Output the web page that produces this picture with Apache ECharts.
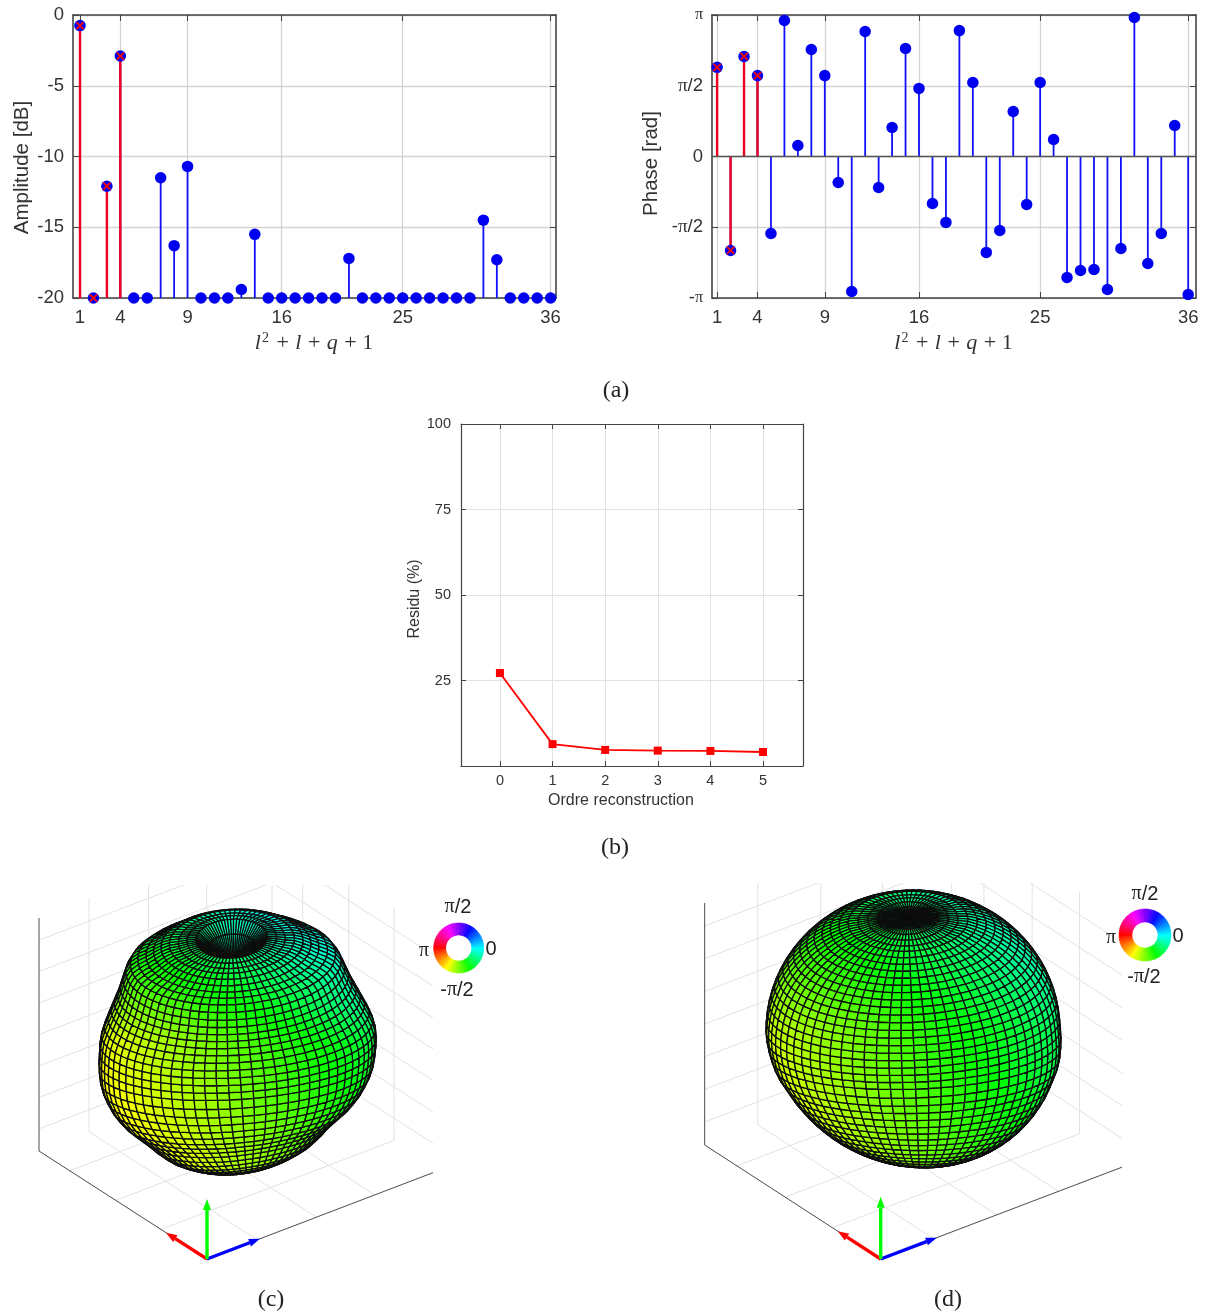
<!DOCTYPE html>
<html>
<head>
<meta charset="utf-8">
<style>html,body{margin:0;padding:0;background:#fff}#c{width:1207px;height:1316px}</style>
<script src="https://cdn.jsdelivr.net/npm/echarts@6/dist/echarts.min.js"></script>
</head>
<body>
<div id="c"></div>
<script>
// ---------- data ----------
const modeIndex = [1,2,3,4,5,6,7,8,9,10,11,12,13,14,15,16,17,18,19,20,21,22,23,24,25,26,27,28,29,30,31,32,33,34,35,36];
const amplitudeDb = [-0.75,-20,-12.1,-2.9,-20,-20,-11.5,-16.3,-10.7,-20,-20,-20,-19.4,-15.5,-20,-20,-20,-20,-20,-20,-17.2,-20,-20,-20,-20,-20,-20,-20,-20,-20,-14.5,-17.3,-20,-20,-20,-20];
const phaseOverPi = [0.63,-0.664,0.707,0.572,-0.544,0.961,0.078,0.756,0.572,-0.184,-0.954,0.883,-0.219,0.205,0.763,0.481,-0.332,-0.466,0.89,0.523,-0.678,-0.523,0.318,-0.339,0.523,0.12,-0.855,-0.806,-0.799,-0.94,-0.65,0.982,-0.756,-0.544,0.219,-0.975];
const selectedCount = 4;
const modeTicks = [1,4,9,16,25,36];
const orders = [0,1,2,3,4,5];
const residuPct = [27.2,6.4,4.7,4.5,4.4,4.1];
// ring radii of the balloons, one value per 4 degrees of polar angle
const ringRadiusC = [.60,.62,.70,.85,.94,.945,.95,.965,.97,.97,.975,.99,1.0,.99,.97,.955,.945,.945,.95,.96,.975,.99,1.0,1.005,1.01,1.015,1.02,1.02,1.015,1.01,1.0,.99,.975,.965,.96,.965,.97,.975,.975,.975,.975,.975,.97,.97,.97,.97];
const ringRadiusD = [.99,.99,.99,.99,.99,.99,1,1,1,1,1,1,1,1,1,1,1,1,1,1,1,1,1,1,1,1,1,.997,.99,.987,.987,.985,.985,.985,.985,.985,.985,.985,.985,.985,.985,.985,.985,.985,.985,.985];
const wallLevels = [.095,.23,.365,.5,.635,.77,.905];
const uTicks = [.215,.47,.72];
const vTicks = [.274,.543,.817];
const arrowTips = [[0,.244,0,'#ff0000'],[.227,0,0,'#0000ff'],[0,0,.257,'#00ff00']];
const SANS = '"Liberation Sans", Arial, sans-serif';
const SERIF = '"Liberation Serif", "Times New Roman", serif';
const TXT = '#333', DARK = '#444', GRIDC = '#d4d4d4';

// ---------- projections of the two balloon panels ----------
const panelC = {rect:[20,885,413,385], o:[207,1259], R:[233,89], L:[-168,108], H:233,
  center:[31,218], sx:138, sy:136, roll:3.5, skew:-.1, rings:ringRadiusC, hue:[100,35,70,22]};
const panelD = {rect:[690,883,432,387], o:[880.7,1259], R:[247,94], L:[-176,114], H:242,
  center:[32.3,229], sx:147, sy:140, roll:2.5, skew:.08, rings:ringRadiusD, hue:[108,35,45,18]};
const LON_CELLS = 72;
const EL_TOP = 37, EL_SLOPE = .22, EL_LOW = 15;

function box(p,u,v,w){ return [u*p.R[0]+v*p.L[0], u*p.R[1]+v*p.L[1]+w*p.H]; }

function buildCells(p){
  const rho=p.roll*Math.PI/180, n=p.rings.length-1, out=[];
  const pt=(i,j)=>{
    const deg=180*i/n, th=deg*Math.PI/180, la=2*Math.PI*j/LON_CELLS;
    const e=Math.max(EL_LOW,EL_TOP-EL_SLOPE*deg)*Math.PI/180;
    const x=Math.sin(th)*Math.cos(la), y=Math.sin(th)*Math.sin(la), z=Math.cos(th);
    const r=p.rings[i]*(1+p.skew*x*Math.max(0,-z));
    const up=z*Math.cos(e)+y*Math.sin(e), d=z*Math.sin(e)-y*Math.cos(e);
    const ux=x*Math.cos(rho)-up*Math.sin(rho), uy=x*Math.sin(rho)+up*Math.cos(rho);
    return {sx:p.center[0]+r*ux*p.sx, sy:p.center[1]+r*uy*p.sy, d:r*d, ux, uy};
  };
  for(let i=0;i<n;i++) for(let j=0;j<LON_CELLS;j++){
    const a=pt(i,j),b=pt(i+1,j),c=pt(i+1,j+1),f=pt(i,j+1);
    const mx=(a.ux+b.ux+c.ux+f.ux)/4, my=(a.uy+b.uy+c.uy+f.uy)/4;
    const hue=p.hue[0]+p.hue[1]*mx+(my>0?p.hue[2]:p.hue[3])*my;
    out.push({d:(a.d+b.d+c.d+f.d)/4, v:[a.sx,a.sy,b.sx,b.sy,c.sx,c.sy,f.sx,f.sy,hue]});
  }
  out.sort((q,s)=>q.d-s.d);
  return out.map(q=>q.v);
}
function buildFrame(p){
  const seg=[]; const add=(a,b,k)=>{const A=box(p,...a),B=box(p,...b);seg.push([A[0],A[1],B[0],B[1],k]);};
  wallLevels.forEach(w=>{add([0,1,w],[1,1,w],0);add([1,0,w],[1,1,w],0);});
  uTicks.forEach(u=>{add([u,1,0],[u,1,1],0);add([u,0,0],[u,1,0],0);});
  vTicks.forEach(v=>{add([1,v,0],[1,v,1],0);add([0,v,0],[1,v,0],0);});
  add([1,1,0],[1,1,1],0);
  add([0,1,0],[0,1,1],1);add([0,0,0],[0,1,0],1);add([0,0,0],[1,0,0],1);
  return seg;
}
const renderSeg=(params,api)=>{
  const a=api.coord([api.value(0),api.value(1)]),b=api.coord([api.value(2),api.value(3)]),k=api.value(4);
  return {type:'line',shape:{x1:a[0],y1:a[1],x2:b[0],y2:b[1]},style:{stroke:k?'#4a4a4a':'#e2e2e2',lineWidth:1}};
};
const renderCell=(params,api)=>{
  const pts=[0,2,4,6].map(i=>api.coord([api.value(i),api.value(i+1)]));
  return {type:'polygon',shape:{points:pts},style:{fill:'hsl('+api.value(8)+',100%,50%)',stroke:'#0c0c0c',lineWidth:1.3,lineJoin:'round'}};
};
const makeArrow=(colors)=>(params,api)=>{
  const o=api.coord([0,0]),t=api.coord([api.value(0),api.value(1)]);
  const dx=t[0]-o[0],dy=t[1]-o[1],L=Math.hypot(dx,dy),ux=dx/L,uy=dy/L,hl=11,hw=4;
  const bx=t[0]-ux*hl,by=t[1]-uy*hl;
  return {type:'group',children:[
    {type:'line',shape:{x1:o[0],y1:o[1],x2:bx,y2:by},style:{stroke:colors[params.dataIndex],lineWidth:3.4}},
    {type:'polygon',shape:{points:[[t[0],t[1]],[bx-uy*hw,by+ux*hw],[bx+uy*hw,by-ux*hw]]},style:{fill:colors[params.dataIndex]}}
  ]};
};

// ---------- axes ----------
const grids=[], xAxes=[], yAxes=[];
function addCartesian(o){
  const g=grids.length;
  grids.push({left:o.rect[0],top:o.rect[1],width:o.rect[2],height:o.rect[3],show:false});
  const line={show:true,onZero:false,lineStyle:{color:DARK,width:o.lw||1.6}};
  const tick={show:true,inside:true,length:o.tl||6,lineStyle:{color:DARK,width:1}};
  const split={show:true,lineStyle:{color:o.gridColor||GRIDC,width:o.gw||1.3}};
  const xn=xAxes.length, yn=yAxes.length;
  xAxes.push({type:'value',gridIndex:g,position:'bottom',min:o.x[0],max:o.x[1],
    axisLine:line,axisTick:Object.assign({customValues:o.xticks},tick),splitLine:split,
    axisLabel:{customValues:o.xticks,color:TXT,fontFamily:SANS,fontSize:o.fs,margin:o.xm||10,formatter:String,showMinLabel:true,showMaxLabel:true,hideOverlap:false},
    name:o.xname,nameLocation:'middle',nameGap:o.xgap,nameTextStyle:o.xnameStyle});
  xAxes.push({type:'value',gridIndex:g,position:'top',min:o.x[0],max:o.x[1],
    axisLine:line,axisTick:Object.assign({customValues:o.xticks},tick),splitLine:{show:false},axisLabel:{show:false}});
  yAxes.push({type:'value',gridIndex:g,position:'left',min:o.y[0],max:o.y[1],interval:o.yi,
    axisLine:line,axisTick:tick,splitLine:split,
    axisLabel:Object.assign({color:TXT,fontFamily:SANS,fontSize:o.fs,margin:o.ym||9,showMinLabel:true,showMaxLabel:true,hideOverlap:false,formatter:o.yfmt||String},o.ylabel||{}),
    name:o.yname,nameLocation:'middle',nameGap:o.ygap,nameTextStyle:o.ynameStyle});
  yAxes.push({type:'value',gridIndex:g,position:'right',min:o.y[0],max:o.y[1],interval:o.yi,
    axisLine:line,axisTick:tick,splitLine:{show:false},axisLabel:{show:false}});
  return {xAxisIndex:xn,yAxisIndex:yn};
}
function addHidden(p){
  const r=p.rect,g=grids.length;
  grids.push({left:r[0],top:r[1],width:r[2],height:r[3],show:false});
  const xn=xAxes.length,yn=yAxes.length;
  xAxes.push({type:'value',gridIndex:g,show:false,min:r[0]-p.o[0],max:r[0]+r[2]-p.o[0],splitLine:{show:false}});
  yAxes.push({type:'value',gridIndex:g,show:false,min:p.o[1]-r[1]-r[3],max:p.o[1]-r[1],splitLine:{show:false}});
  return {xAxisIndex:xn,yAxisIndex:yn};
}
const mathRich={i:{fontFamily:SERIF,fontStyle:'italic',fontSize:22,color:TXT},s:{fontFamily:SERIF,fontSize:14,color:TXT,verticalAlign:'bottom',padding:[0,1,10,1]},n:{fontFamily:SERIF,fontSize:22,color:TXT,padding:[0,1,0,1]}};
const mathName='{i|l}{s|2}{n| + }{i|l}{n| + }{i|q}{n| + 1}';

const ampAxes=addCartesian({rect:[73,15,483,283],x:[.48,36.4],y:[-20,0],yi:5,xticks:modeTicks,fs:18.5,
  xname:mathName,xgap:33,xnameStyle:{rich:mathRich},yname:'Amplitude [dB]',ygap:40,ynameStyle:{color:TXT,fontFamily:SANS,fontSize:20.5,padding:[0,22,0,0]}});
const phaseAxes=addCartesian({rect:[712,15,484,283],x:[.62,36.58],y:[-1,1],yi:.5,xticks:modeTicks,fs:18.5,
  xname:mathName,xgap:33,xnameStyle:{rich:mathRich},yname:'Phase [rad]',ygap:50,ynameStyle:{color:TXT,fontFamily:SANS,fontSize:20.5,padding:[0,14,0,0]},
  yfmt:v=>v===1?'{p|π}':v===.5?'{p2|π}/2':v===0?'0':v===-.5?'-{p2|π}/2':'-{p|π}',
  ylabel:{rich:{p:{fontFamily:SERIF,fontSize:16,color:TXT},p2:{fontFamily:SERIF,fontSize:19,color:TXT}}}});
const resAxes=addCartesian({rect:[461,424,342,342],x:[-.74,5.76],y:[0,100],yi:25,xticks:orders,fs:14.5,tl:5,lw:1.2,gw:1,gridColor:'#e2e2e2',xm:7,ym:10,
  yfmt:v=>v===0?'':String(v),
  xname:'Ordre reconstruction',xgap:27,xnameStyle:{color:TXT,fontFamily:SANS,fontSize:16,padding:[0,22,0,0]},
  yname:'Residu (%)',ygap:35,ynameStyle:{color:TXT,fontFamily:SANS,fontSize:16,padding:[0,8,0,0]}});
const cAxes=addHidden(panelC), dAxes=addHidden(panelD);

// ---------- series builders ----------
const stemRender=(base,color,width)=>(params,api)=>{
  const x=api.value(0),v=api.value(1);
  const a=api.coord([x,base]),b=api.coord([x,v]);
  return {type:'line',shape:{x1:a[0],y1:a[1],x2:b[0],y2:b[1]},style:{stroke:color,lineWidth:width}};
};
const crossPath='path://M0 0L10 10M10 0L0 10';
function stemSeries(axes,values,base,extra){
  const pts=modeIndex.map((m,i)=>[m,values[i]]);
  return [
    Object.assign({type:'custom',coordinateSystem:'cartesian2d',silent:true,z:2,data:pts,renderItem:stemRender(base,'#1010ff',1.8)},axes,extra||{}),
    Object.assign({type:'custom',coordinateSystem:'cartesian2d',silent:true,z:3,data:pts.slice(0,selectedCount),renderItem:stemRender(base,'#ee0022',2.4)},axes),
    Object.assign({type:'scatter',silent:true,z:4,symbol:'circle',symbolSize:11.5,itemStyle:{color:'#0000f0',opacity:1},data:pts,clip:false},axes),
    Object.assign({type:'scatter',silent:true,z:5,symbol:crossPath,symbolSize:7,itemStyle:{color:'none',borderColor:'#ff0000',borderWidth:1.8,opacity:1},data:pts.slice(0,selectedCount),clip:false},axes)
  ];
}
function ballSeries(p,axes){
  const arrows=arrowTips.map(t=>box(p,t[0],t[1],t[2]));
  return [
    Object.assign({type:'custom',coordinateSystem:'cartesian2d',silent:true,clip:true,z:1,progressive:0,data:buildFrame(p),renderItem:renderSeg},axes),
    Object.assign({type:'custom',coordinateSystem:'cartesian2d',silent:true,clip:false,z:2,progressive:0,data:buildCells(p),renderItem:renderCell},axes),
    Object.assign({type:'custom',coordinateSystem:'cartesian2d',silent:true,clip:false,z:3,data:arrows,renderItem:makeArrow(arrowTips.map(t=>t[3]))},axes)
  ];
}
const WHEEL_SLICES=72;
function wheel(center,radius){
  const data=[];
  for(let i=0;i<WHEEL_SLICES;i++){
    const c='hsl('+(180+360*(i+.5)/WHEEL_SLICES)+',100%,50%)';
    data.push({value:1,itemStyle:{color:c,borderColor:c,borderWidth:.6}});
  }
  return {type:'pie',silent:true,z:4,center:center,radius:radius,startAngle:0,clockwise:false,label:{show:false},labelLine:{show:false},emphasis:{disabled:true},data:data};
}

// ---------- text ----------
function txt(x,y,text,font,rich,fill){
  return {type:'text',x:x,y:y,z:20,silent:true,style:{text:text,font:font,fill:fill||'#222',align:'center',verticalAlign:'middle',rich:rich}};
}
const piRich={p:{fontFamily:SERIF,fontSize:20,color:'#222'},t:{fontFamily:SANS,fontSize:20,color:'#222'}};
function wheelLabels(cx,cy){
  const f='20px '+SANS;
  return [
    txt(cx,cy-41,'{p|π}{t|/2}',f,piRich),
    txt(cx+33,cy+1,'0',f),
    txt(cx-34,cy+3,'{p|π}',f,piRich),
    txt(cx-1,cy+42,'{t|-}{p|π}{t|/2}',f,piRich)
  ];
}
const capFont='24px '+SERIF;
const graphics=[
  txt(616,391,'(a)',capFont),txt(615,848,'(b)',capFont),txt(271,1300,'(c)',capFont),txt(948,1300,'(d)',capFont),
  ...wheelLabels(458,948),...wheelLabels(1145,935)
];

const phaseSeries=stemSeries(phaseAxes,phaseOverPi,0,{markLine:{silent:true,symbol:'none',label:{show:false},animation:false,lineStyle:{color:'#555',width:1.4,type:'solid'},data:[{yAxis:0}]}});

const option={
  animation:false,backgroundColor:'#fff',
  grid:grids,xAxis:xAxes,yAxis:yAxes,graphic:graphics,
  series:[
    ...stemSeries(ampAxes,amplitudeDb,-20),
    ...phaseSeries,
    Object.assign({type:'line',silent:true,z:3,data:orders.map((o,i)=>[o,residuPct[i]]),symbol:'rect',symbolSize:8,lineStyle:{color:'#ff0000',width:1.8},itemStyle:{color:'#ff0000'}},resAxes),
    ...ballSeries(panelC,cAxes),
    ...ballSeries(panelD,dAxes),
    wheel([458.7,948],[13,25]),
    wheel([1145,935],[13,26])
  ]
};
const chart=echarts.init(document.getElementById('c'),null,{renderer:'canvas'});
chart.setOption(option);
</script>
</body>
</html>
